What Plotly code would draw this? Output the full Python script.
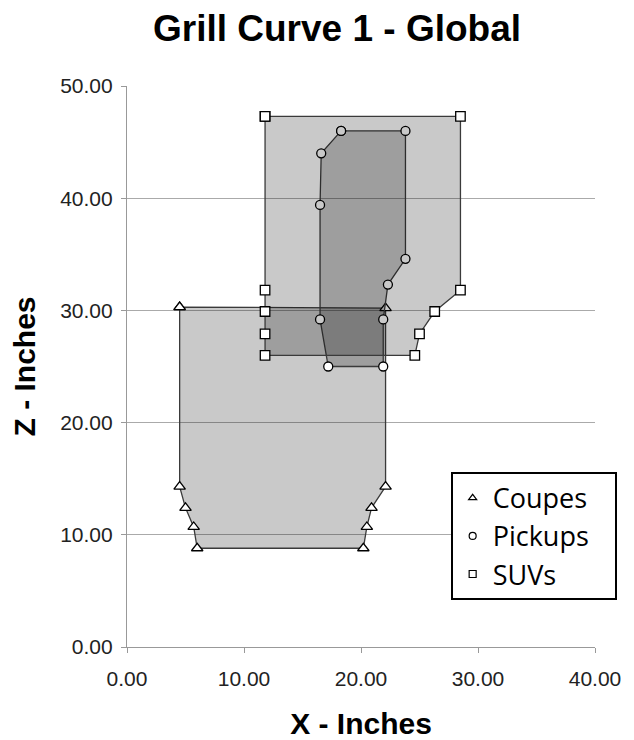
import plotly.graph_objects as go

# Data
coupes_x = [4.5, 22.1, 22.1, 20.9, 20.5, 20.2, 6.0, 5.7, 5.0, 4.5]
coupes_z = [30.3, 30.2, 14.3, 12.4, 10.7, 8.8, 8.8, 10.7, 12.4, 14.3]

pickups_x = [18.3, 23.8, 23.8, 22.3, 21.9, 21.9, 17.2, 16.5, 16.5, 16.6]
pickups_z = [46.0, 46.0, 34.6, 32.3, 29.2, 25.0, 25.0, 29.2, 39.4, 44.0]

suvs_x = [11.8, 28.5, 28.5, 26.3, 25.0, 24.6, 11.8, 11.8, 11.8, 11.8]
suvs_z = [47.3, 47.3, 31.8, 29.9, 27.9, 26.0, 26.0, 27.9, 29.9, 31.8]

series = [
    ("Coupes", coupes_x, coupes_z, "triangle-up", 10),
    ("Pickups", pickups_x, pickups_z, "circle", 9),
    ("SUVs", suvs_x, suvs_z, "square", 9.5),
]

x_ticks = [0, 10, 20, 30, 40]
z_ticks = [0, 10, 20, 30, 40, 50]

fig = go.Figure()
for name, xs, zs, sym, sz in series:
    fig.add_trace(go.Scatter(
        x=xs + [xs[0]], y=zs + [zs[0]],
        mode="lines+markers", fill="toself",
        fillcolor="rgba(0,0,0,0.21)",
        line=dict(color="#3a3a3a", width=1.3),
        marker=dict(symbol=sym, size=sz, color="white",
                    line=dict(color="black", width=1.3)),
        showlegend=False, hoverinfo="x+y", name=name,
    ))
for name, xs, zs, sym, sz in series:
    fig.add_trace(go.Scatter(
        x=[None], y=[None], mode="markers",
        name=name + "\u00a0\u00a0\u00a0", legendgroup=name,
        marker=dict(symbol=sym, size=7, color="white",
                    line=dict(color="black", width=1.2)),
    ))

fig.update_layout(
    width=626, height=732,
    margin=dict(l=119, r=39, t=78, b=93),
    paper_bgcolor="white", plot_bgcolor="white",
    title=dict(text="<b>Grill Curve 1 - Global</b>", x=0.5256, xanchor="center",
               y=0.972, yanchor="middle",
               font=dict(family="Liberation Sans, Arial", size=37, color="black")),
    font=dict(family="Liberation Sans, Arial", color="#222"),
    legend=dict(x=0.692, xanchor="left", y=0.312, yanchor="top",
                bgcolor="white", bordercolor="black", borderwidth=1.8,
                font=dict(family="Open Sans", size=27, color="black"),
                tracegroupgap=0, itemwidth=30),
    showlegend=True,
)
fig.update_xaxes(
    range=[0, 40], tickvals=x_ticks, tickformat=".2f", automargin=False,
    showgrid=False, zeroline=False, showline=True, linecolor="#999", linewidth=1.2,
    ticks="outside", ticklen=5, tickcolor="#999", ticklabelstandoff=8,
    tickfont=dict(size=21, color="#222"),
    title=dict(text="<b>X - Inches</b>", font=dict(size=30, color="black"), standoff=25),
)
fig.update_yaxes(
    range=[0, 50], tickvals=z_ticks, tickformat=".2f", automargin=False,
    showgrid=True, gridcolor="#aaa", gridwidth=1, zeroline=False,
    showline=True, linecolor="#999", linewidth=1.2,
    ticks="outside", ticklen=5, tickcolor="#999", ticklabelstandoff=4,
    tickfont=dict(size=21, color="#222"),
    title=dict(text="<b>Z - Inches</b>", font=dict(size=30, color="black"), standoff=16),
)

fig.write_html("out.html")
